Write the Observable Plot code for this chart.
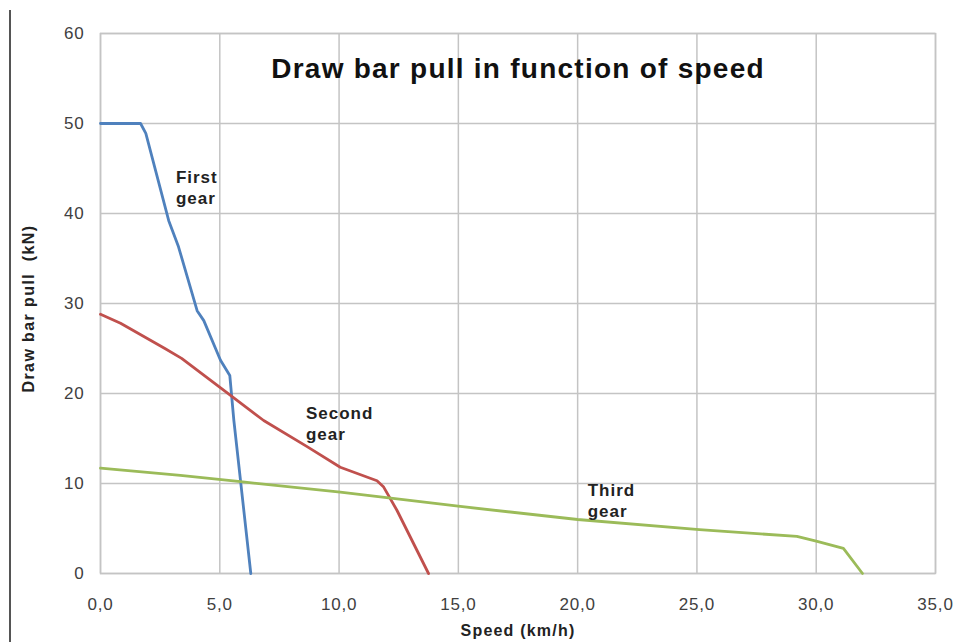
<!DOCTYPE html>
<html>
<head>
<meta charset="utf-8">
<script src="https://cdn.jsdelivr.net/npm/d3@7"></script>
<script src="https://cdn.jsdelivr.net/npm/@observablehq/plot@0.6"></script>
<style>
  html, body { margin: 0; padding: 0; background: #fff; }
  #wrap { position: relative; width: 963px; height: 642px; overflow: hidden; }
  #edge { position: absolute; left: 9px; top: 10px; width: 2px; height: 640px; background: #555; }
  .ttl text { letter-spacing: 1.25px; }
  .gear text { letter-spacing: 1px; }
  .xl text { letter-spacing: 1.2px; }
  .yl text { letter-spacing: 1.4px; white-space: pre; }
  .tk text { letter-spacing: 0.8px; }
</style>
</head>
<body>
<div id="wrap"><div id="edge"></div></div>
<script>
// First gear (blue)
const firstSpeed = [0, 1.68, 1.9, 2.86, 3.27, 4.05, 4.33, 5.03, 5.42, 5.59, 6.3];
const firstPull  = [50, 50, 48.9, 39.2, 36.3, 29.2, 28.1, 23.7, 22.0, 17.0, 0];
// Second gear (red)
const secondSpeed = [0, 0.84, 2.7, 3.4, 5.45, 6.84, 8.66, 10.05, 11.59, 11.87, 12.43, 13.75];
const secondPull  = [28.8, 27.8, 25.0, 23.9, 19.8, 17.0, 14.1, 11.8, 10.3, 9.6, 7.0, 0];
// Third gear (green)
const thirdSpeed = [0, 3.35, 5.87, 10.05, 15.08, 20.0, 25.1, 29.19, 30.0, 31.14, 31.94];
const thirdPull  = [11.7, 10.9, 10.2, 9.05, 7.45, 6.0, 4.87, 4.12, 3.6, 2.8, 0];

const seriesNames = ["First gear", "Second gear", "Third gear"];
const seriesColors = ["#4f81bd", "#c0504d", "#9bbb59"];

// In-chart labels (anchored at their top-left)
const labelText  = ["First\ngear", "Second\ngear", "Third\ngear"];
const labelSpeed = [3.16, 8.61, 20.42];
const labelPull  = [45.1, 18.8, 10.3];

const xTicks = [0, 5, 10, 15, 20, 25, 30, 35];
const yTicks = [0, 10, 20, 30, 40, 50, 60];

const titleText = "Draw bar pull in function of speed";
const xLabel = "Speed (km/h)";
const yLabel = "Draw bar pull  (kN)";

const rows = [];
[[firstSpeed, firstPull], [secondSpeed, secondPull], [thirdSpeed, thirdPull]].forEach(([xs, ys], i) => {
  xs.forEach((x, j) => rows.push({series: seriesNames[i], speed: x, pull: ys[j]}));
});
const labels = labelText.map((t, i) => ({t, x: labelSpeed[i], y: labelPull[i]}));

const fmtX = d => d3.format(".1f")(d).replace(".", ",");
const font = "'Liberation Sans', Arial, sans-serif";

const chart = Plot.plot({
  width: 963,
  height: 642,
  marginLeft: 100,
  marginRight: 28,
  marginTop: 33,
  marginBottom: 69,
  style: {fontFamily: font, fontSize: "14px", background: "transparent", overflow: "visible"},
  x: {domain: [0, 35], ticks: xTicks, tickFormat: fmtX, label: null},
  y: {domain: [0, 60], ticks: yTicks, label: null},
  color: {domain: seriesNames, range: seriesColors},
  marks: [
    Plot.gridX(xTicks, {stroke: "#c4c4c4", strokeOpacity: 1, strokeWidth: 1.5}),
    Plot.gridY(yTicks, {stroke: "#c4c4c4", strokeOpacity: 1, strokeWidth: 1.5}),
    Plot.frame({stroke: "#c4c4c4", strokeWidth: 1.5}),
    Plot.axisX(xTicks, {tickSize: 0, tickPadding: 24, tickFormat: fmtX, fill: "#404040", fontSize: 17, label: null, className: "tk"}),
    Plot.axisY(yTicks, {tickSize: 0, tickPadding: 16, fill: "#404040", fontSize: 17, label: null, className: "tk"}),
    Plot.line(rows, {x: "speed", y: "pull", z: "series", stroke: "series", strokeWidth: 2.8, strokeLinejoin: "round"}),
    Plot.text(labels, {x: "x", y: "y", text: "t", fontWeight: "bold", fontSize: 17, fill: "#222", lineHeight: 1.24, lineAnchor: "top", textAnchor: "start", className: "gear"}),
    Plot.text([titleText], {frameAnchor: "top", lineAnchor: "top", dy: 25, fontSize: 28, fontWeight: "bold", fill: "#111", className: "ttl"}),
    Plot.text([xLabel], {frameAnchor: "bottom", lineAnchor: "top", dy: 51, fontSize: 16, fontWeight: "bold", fill: "#222", className: "xl"}),
    Plot.text([yLabel], {frameAnchor: "left", textAnchor: "middle", dx: -72, dy: 5, rotate: -90, fontSize: 16, fontWeight: "bold", fill: "#222", className: "yl"})
  ]
});
chart.style.position = "absolute";
chart.style.left = "0px";
chart.style.top = "0px";
document.getElementById("wrap").appendChild(chart);
</script>
</body>
</html>
